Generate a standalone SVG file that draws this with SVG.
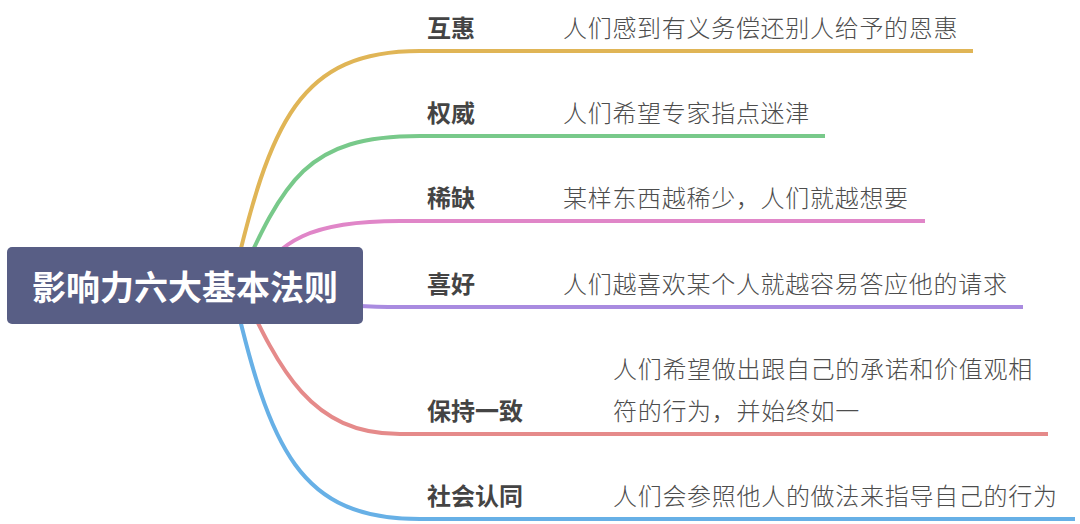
<svg xmlns="http://www.w3.org/2000/svg" width="1080" height="524" viewBox="0 0 1080 524">
<style>
.c{fill:none;stroke-width:4;stroke-linecap:butt}
.lb{font-family:"Noto Sans CJK SC","Noto Sans",sans-serif;font-size:24px;font-weight:bold;fill:#444}
.ds{font-family:"Noto Sans CJK SC","Noto Sans",sans-serif;font-size:24px;font-weight:300;fill:#4d4d4d;letter-spacing:0.7px}
.rt{font-family:"Noto Sans CJK SC","Noto Sans",sans-serif;font-size:34px;font-weight:bold;fill:#ffffff}
</style>
<rect width="1080" height="524" fill="#ffffff"/>
<g id="connectors">
<path class="c" stroke="#e0b556" d="M232 286 C270 120 300 51 420 51 H973"/>
<path class="c" stroke="#78c98a" d="M236 286 C285 180 305 136 420 136 H825"/>
<path class="c" stroke="#e086c8" d="M250 286 C280 240 310 221 400 221 H925"/>
<path class="c" stroke="#a98be0" d="M250 286 C300 300 330 307 400 307 H1023"/>
<path class="c" stroke="#e58a8a" d="M240 286 C280 370 310 434 400 434 H1048"/>
<path class="c" stroke="#67b0e6" d="M232 286 C270 452 300 519 420 519 H1075"/>
</g>
<g id="root">
<rect x="7" y="247" width="356" height="77" rx="5" fill="#585e85"/>
<text class="rt" x="185" y="300" text-anchor="middle">影响力六大基本法则</text>
</g>
<g id="n1"><text class="lb" x="427" y="37">互惠</text><text class="ds" x="563" y="37">人们感到有义务偿还别人给予的恩惠</text></g>
<g id="n2"><text class="lb" x="427" y="122">权威</text><text class="ds" x="563" y="122">人们希望专家指点迷津</text></g>
<g id="n3"><text class="lb" x="427" y="207">稀缺</text><text class="ds" x="563" y="207">某样东西越稀少，人们就越想要</text></g>
<g id="n4"><text class="lb" x="427" y="293">喜好</text><text class="ds" x="563" y="293">人们越喜欢某个人就越容易答应他的请求</text></g>
<g id="n5"><text class="lb" x="427" y="420">保持一致</text><text class="ds" x="613" y="378">人们希望做出跟自己的承诺和价值观相</text><text class="ds" x="613" y="420">符的行为，并始终如一</text></g>
<g id="n6"><text class="lb" x="427" y="505">社会认同</text><text class="ds" x="613" y="505">人们会参照他人的做法来指导自己的行为</text></g>
</svg>
